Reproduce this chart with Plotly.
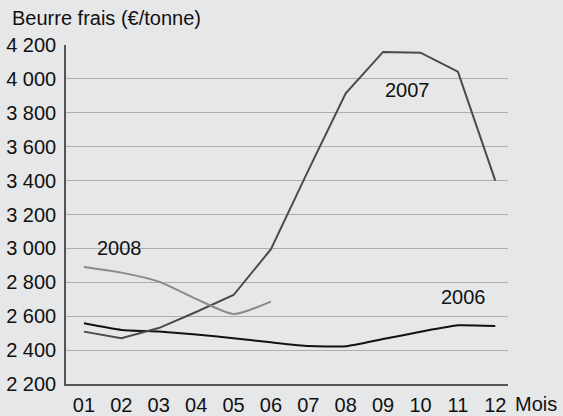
import plotly.graph_objects as go

months = [1, 2, 3, 4, 5, 6, 7, 8, 9, 10, 11, 12]
month_labels = ["01", "02", "03", "04", "05", "06", "07", "08", "09", "10", "11", "12"]
y2006 = [2558, 2519, 2509, 2492, 2470, 2446, 2424, 2422, 2465, 2508, 2546, 2542]
y2007 = [2509, 2470, 2530, 2625, 2725, 2995, 3460, 3915, 4159, 4155, 4043, 3400]
y2008 = [2890, 2857, 2804, 2702, 2613, 2686]
ytick_vals = [2200, 2400, 2600, 2800, 3000, 3200, 3400, 3600, 3800, 4000, 4200]
ytick_text = ["2 200", "2 400", "2 600", "2 800", "3 000", "3 200", "3 400", "3 600", "3 800", "4 000", "4 200"]

W, H = 563, 416
BG = "#e6e7e9"
FONT = "Liberation Sans, Arial, sans-serif"

fig = go.Figure()
fig.add_trace(go.Scatter(x=months, y=y2006, mode="lines",
                         line=dict(color="#111111", width=2, shape="spline", smoothing=0.4)))
fig.add_trace(go.Scatter(x=months, y=y2007, mode="lines",
                         line=dict(color="#4a4a4a", width=2)))
fig.add_trace(go.Scatter(x=months[:6], y=y2008, mode="lines",
                         line=dict(color="#8a8a8a", width=2, shape="spline", smoothing=0.6)))

ann_font = dict(family=FONT, size=20, color="#111111")
fig.add_annotation(x=9.66, y=3935, text="2007", showarrow=False, font=ann_font)
fig.add_annotation(x=1.95, y=3002, text="2008", showarrow=False, font=ann_font)
fig.add_annotation(x=11.15, y=2713, text="2006", showarrow=False, font=ann_font)
fig.add_annotation(xref="paper", yref="paper", x=536 / W, y=1 - 404 / H,
                   xanchor="center", yanchor="middle",
                   text="Mois", showarrow=False, font=ann_font)
fig.add_annotation(xref="paper", yref="paper", x=10 / W, y=1 - 18 / H,
                   xanchor="left", yanchor="middle",
                   text="Beurre frais (€/tonne)", showarrow=False, font=ann_font)

fig.update_layout(
    width=W, height=H,
    margin=dict(l=0, r=0, t=0, b=0),
    paper_bgcolor=BG, plot_bgcolor=BG,
    showlegend=False,
    font=dict(family=FONT, size=20, color="#111111"),
    xaxis=dict(domain=[66 / W, 508 / W], range=[0.52, 12.34],
               tickvals=months, ticktext=month_labels,
               showgrid=False, zeroline=False, showline=True, linecolor="#555555", linewidth=1.5,
               ticks="", ticklabelstandoff=2, fixedrange=True, automargin=False),
    yaxis=dict(domain=[1 - 384 / H, 1 - 45 / H], range=[2200, 4200],
               tickvals=ytick_vals, ticktext=ytick_text,
               showgrid=True, gridcolor="#adaeb0", gridwidth=1.2, zeroline=False,
               showline=True, linecolor="#555555", linewidth=1.5,
               ticks="", ticklabelstandoff=4, fixedrange=True, automargin=False),
)

fig.write_html("out.html", config={"displayModeBar": False},
               post_script="document.body.style.margin='0';document.body.style.overflow='hidden';")
